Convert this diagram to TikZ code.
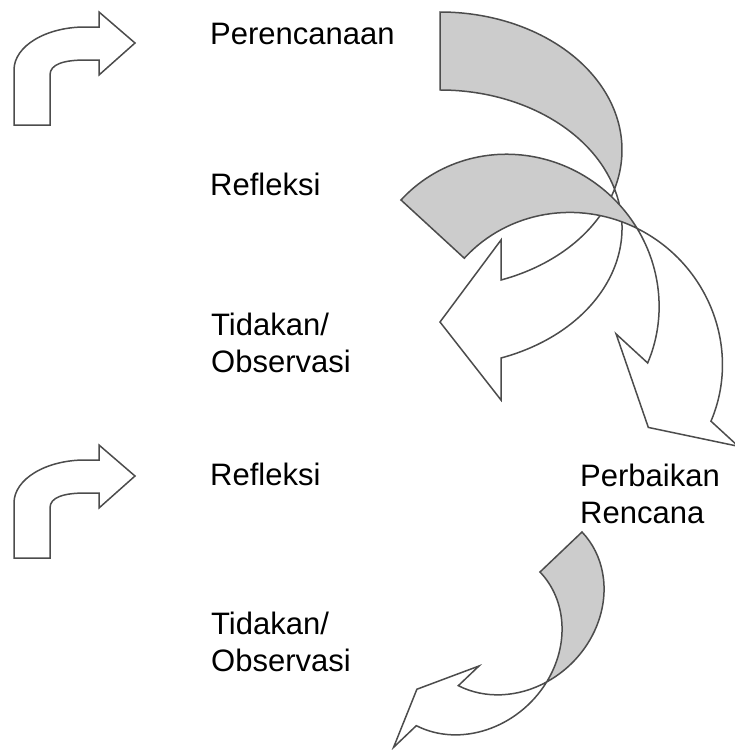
\documentclass[tikz,border=0pt]{standalone}
\usepackage{fontspec}
\setmainfont{Liberation Sans}
\usetikzlibrary{calc}

\begin{document}
\begin{tikzpicture}[x=1pt,y=1pt]
	\tikzstyle{stage} = [anchor=base west,align=left,inner sep=0pt,font=\fontsize{31}{36.5}\selectfont]
	\tikzstyle{outline} = [draw=black!70,line width=1.5pt,line join=miter]
	\tikzstyle{back} = [outline,fill=black!20]
	\tikzstyle{front} = [outline,fill=white]

	\useasboundingbox (0,0) rectangle (735,-750);

	% bent arrows on the left
	\foreach \oy in {0,433} {
		\begin{scope}[shift={(0,-\oy)}]
			\draw[front] (14,-125) -- (14,-70) .. controls (14,-46) and (46,-27) .. (85,-27) -- (99,-27) -- (99,-12)
				-- (135,-43) -- (99,-75) -- (99,-60) -- (86,-60) .. controls (64,-60) and (50,-64) .. (50,-75) -- (50,-125) -- cycle;
		\end{scope}
	}

	% curved arrows: back part grey, front part white
	\foreach \ox/\oy/\rot/\rx/\ry/\bw/\hl/\ya/\yt/\yb in {440/12/0/182/138/78/61/228/310/388,
			401/200/47.4/145/150/86/47/249/336/415, 582/532/-46.4/88/100/58/26/167/228/285} {
		\begin{scope}[shift={(\ox,-\oy)},rotate=\rot]
			\pgfmathsetmacro\al{asin(\bw/(2*\ry))}
			\pgfmathsetmacro\ph{acos(\hl/\rx)}
			\draw[back] (0,0) arc[start angle=90,end angle=-\al,x radius=\rx,y radius=\ry]
				arc[start angle=\al,end angle=90,x radius=\rx,y radius=\ry] -- cycle;
			\draw[front] ({\rx*cos(\al)},{-\ry-\ry*sin(\al)}) arc[start angle=-\al,end angle=-\ph,x radius=\rx,y radius=\ry]
				-- (\hl,-\ya) -- (0,-\yt) -- (\hl,-\yb) -- ({\hl},{-\ry-\bw-\ry*sin(\ph)})
				arc[start angle=-\ph,end angle=\al,x radius=\rx,y radius=\ry] -- cycle;
		\end{scope}
	}

	% two-line nodes sit on the baseline of their last line
	\node[stage] (plan) at (210,-44) {Perencanaan};
	\node[stage] (reflect1) at (210,-195.5) {Refleksi};
	\node[stage] (act1) at (211,-372) {Tidakan/\\Observasi};
	\node[stage] (reflect2) at (210,-485.5) {Refleksi};
	\node[stage] (revise) at (580,-523) {Perbaikan\\Rencana};
	\node[stage] (act2) at (211,-671) {Tidakan/\\Observasi};
\end{tikzpicture}
\end{document}
